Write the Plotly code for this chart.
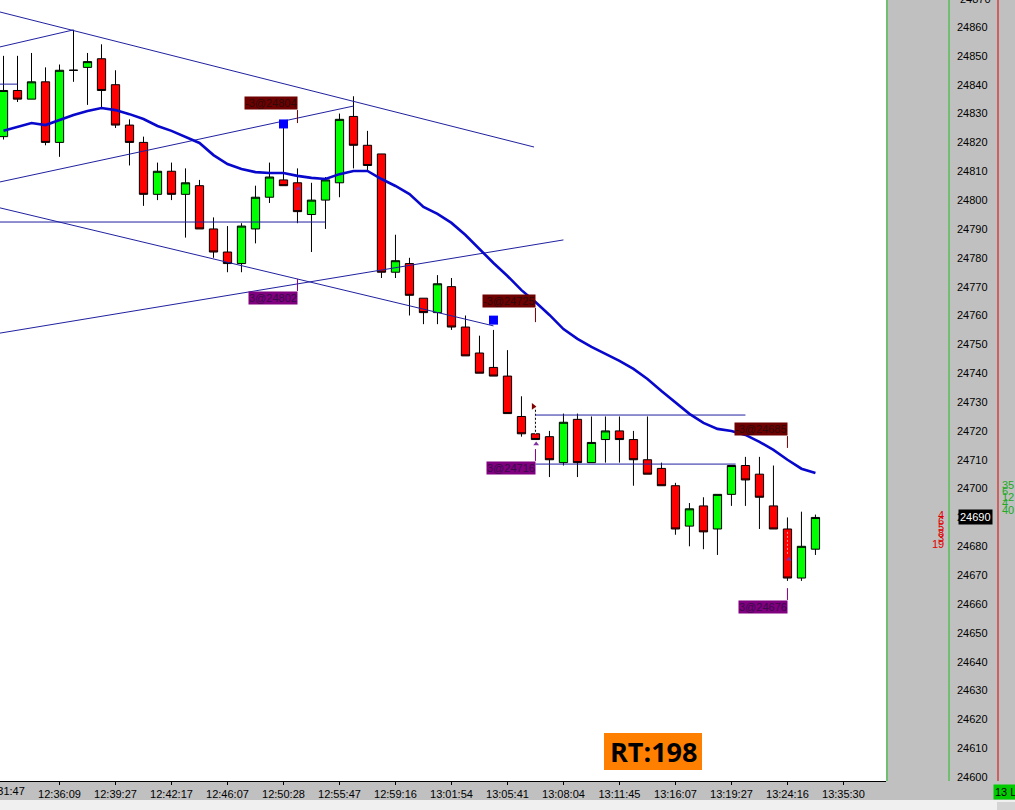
import plotly.graph_objects as go

# ---------------- data ----------------
tick_k = [0, 4, 8, 12, 16, 20, 24, 28, 32, 36, 40, 44, 48, 52, 56, 60]
tick_labels = ["12:31:47", "12:36:09", "12:39:27", "12:42:17", "12:46:07", "12:50:28",
               "12:55:47", "12:59:16", "13:01:54", "13:05:41", "13:08:04", "13:11:45",
               "13:16:07", "13:19:27", "13:24:16", "13:35:30"]

opens = [24822, 24838, 24835, 24841, 24820, 24845, 24846, 24849, 24840, 24826,
         24820, 24802, 24810, 24802, 24805, 24790, 24782, 24778, 24790, 24801,
         24807, 24806, 24795, 24800, 24806, 24829, 24819, 24816, 24775, 24778,
         24766, 24761, 24770, 24756, 24747, 24742, 24739, 24725, 24719, 24718,
         24709, 24724, 24709, 24717, 24720, 24717, 24710, 24707, 24701, 24687,
         24694, 24686, 24698, 24708, 24705, 24694, 24686, 24669, 24679]
highs = [24850, 24850, 24851, 24846, 24847, 24859, 24851, 24854, 24845, 24828,
         24822, 24813, 24813, 24811, 24807, 24794, 24791, 24792, 24805, 24813,
         24825, 24811, 24806, 24808, 24830, 24836, 24824, 24816, 24788, 24780,
         24766, 24774, 24773, 24760, 24753, 24755, 24748, 24732, 24728, 24720,
         24726, 24726, 24725, 24725, 24725, 24720, 24725, 24709, 24702, 24695,
         24697, 24698, 24708, 24711, 24711, 24708, 24690, 24692, 24691]
lows = [24821, 24834, 24835, 24819, 24815, 24841, 24833, 24832, 24825, 24812,
        24798, 24800, 24800, 24787, 24790, 24780, 24775, 24775, 24785, 24799,
        24805, 24792, 24782, 24790, 24801, 24811, 24810, 24773, 24773, 24760,
        24757, 24757, 24755, 24746, 24740, 24739, 24726, 24718, 24717, 24704,
        24708, 24704, 24709, 24709, 24709, 24701, 24705, 24701, 24684, 24680,
        24679, 24677, 24694, 24694, 24686, 24686, 24668, 24668, 24677]
closes = [24838, 24835, 24841, 24820, 24845, 24845, 24848, 24838, 24826, 24820,
          24802, 24810, 24802, 24806, 24790, 24782, 24778, 24791, 24801, 24808,
          24805, 24796, 24800, 24807, 24828, 24819, 24812, 24775, 24779, 24767,
          24761, 24771, 24756, 24746, 24740, 24739, 24726, 24719, 24717, 24710,
          24723, 24709, 24716, 24720, 24717, 24710, 24705, 24701, 24686, 24693,
          24685, 24698, 24708, 24703, 24697, 24686, 24669, 24680, 24690]
ema = [24824.0, 24825.3, 24826.7, 24826.0, 24827.8, 24829.5, 24830.9, 24831.9, 24831.2, 24829.8,
       24828.1, 24825.7, 24824.0, 24821.9, 24819.8, 24815.6, 24812.5, 24810.8, 24809.7, 24809.4,
       24809.4, 24808.4, 24807.7, 24807.3, 24809.0, 24810.1, 24810.1, 24807.3, 24804.9, 24802.1,
       24797.6, 24795.2, 24792.1, 24787.9, 24783.0, 24778.2, 24773.7, 24768.8, 24764.7, 24760.2,
       24755.3, 24751.9, 24749.1, 24746.7, 24744.3, 24741.5, 24738.0, 24733.8, 24729.7, 24725.9,
       24722.8, 24720.7, 24720.0, 24718.6, 24716.2, 24713.4, 24710.0, 24706.9, 24705.4]

# drawn trend / channel lines (bar index, price)
line_x0 = [-0.25, -0.25, -0.25, -0.25, -0.25, -0.25, -0.25, 38, 38]
line_y0 = [24865.2, 24853.1, 24806.3, 24797.3, 24753.9, 24792.4, 24840.2, 24725.5, 24708.5]
line_x1 = [37.9, 5, 25, 35, 40, 23, 1, 53, 52.3]
line_y1 = [24818.4, 24859.0, 24832.6, 24756.4, 24786.2, 24792.4, 24840.2, 24725.5, 24708.5]

# trade labels
label_texts = ["-3@24804", "3@24802", "-3@24725", "3@24716", "-3@24685", "3@24676"]
label_k = [21, 21, 38, 38, 56, 56]
label_sell = [True, False, True, False, True, False]
label_box_edge = [24831.2, 24768.5, 24762.6, 24709.6, 24718.2, 24661.4]
label_tail_end = [24826.7, 24772.7, 24757.7, 24713.7, 24714.1, 24665.5]

# blue signal squares
signal_k = [20, 35]
signal_price = [24826.4, 24758.4]

y_ticks = list(range(24600, 24861, 10))
last_price = 24690

# ---------------- figure ----------------
W, H = 1015, 810
ML, MR, MT, MB = 0, 129, 0, 29
PW, PH = W - ML - MR, H - MT - MB


def px(xp):
    return xp / PW


def py(yp):
    return (PH - yp) / PH


fig = go.Figure()
n = len(opens)
fig.add_trace(go.Candlestick(
    x=list(range(n)), open=opens, high=highs, low=lows, close=closes,
    increasing=dict(line=dict(color="black", width=1), fillcolor="#00ff00"),
    decreasing=dict(line=dict(color="black", width=1), fillcolor="#ff0000"),
    whiskerwidth=0, showlegend=False, hoverinfo="skip"))

for x0, y0, x1, y1 in zip(line_x0, line_y0, line_x1, line_y1):
    fig.add_trace(go.Scatter(x=[x0, x1], y=[y0, y1], mode="lines",
                             line=dict(color="#2020a0", width=1),
                             showlegend=False, hoverinfo="skip"))

fig.add_trace(go.Scatter(x=list(range(n)), y=ema, mode="lines",
                         line=dict(color="#0808cc", width=2.6),
                         showlegend=False, hoverinfo="skip"))

# dashed trade connectors
fig.add_trace(go.Scatter(x=[38, 38], y=[highs[38], opens[38]], mode="lines",
                         line=dict(color="white", width=1, dash="2px,2px"),
                         showlegend=False, hoverinfo="skip"))
fig.add_trace(go.Scatter(x=[56, 56], y=[opens[56] - 1, closes[56] + 8], mode="lines",
                         line=dict(color="#ff9a9a", width=1, dash="2px,2px"),
                         showlegend=False, hoverinfo="skip"))
fig.add_trace(go.Scatter(x=[37.85], y=[line_y0[7] + 3], mode="markers",
                         marker=dict(symbol="triangle-right", size=6, color="#800000"),
                         showlegend=False, hoverinfo="skip"))
fig.add_trace(go.Scatter(x=[38.05, 56.1, 21.05], y=[closes[38] - 1.5, closes[56] + 6.5, opens[21] - 2],
                         mode="markers",
                         marker=dict(symbol="triangle-up", size=5, color="#8030a0"),
                         showlegend=False, hoverinfo="skip"))

fig.add_trace(go.Scatter(x=signal_k, y=signal_price, mode="markers",
                         marker=dict(symbol="square", size=9, color="#0000ff"),
                         showlegend=False, hoverinfo="skip"))

# label tails
for k, sell, edge, tail in zip(label_k, label_sell, label_box_edge, label_tail_end):
    fig.add_trace(go.Scatter(x=[k, k], y=[edge, tail], mode="lines",
                             line=dict(color="#700000" if sell else "#800080", width=1),
                             showlegend=False, hoverinfo="skip"))

annotations = []
for t, k, sell, edge in zip(label_texts, label_k, label_sell, label_box_edge):
    annotations.append(dict(
        x=k + 0.07, y=edge, xref="x", yref="y", text=t, showarrow=False,
        xanchor="right", yanchor="bottom" if sell else "top",
        bgcolor="#6e0000" if sell else "#800080", borderpad=0,
        font=dict(family="Liberation Sans, Arial", size=11,
                  color="#2e0a0a" if sell else "#3a0a4a")))

# RT box
annotations.append(dict(x=px(653), y=py(751.5), xref="paper", yref="paper",
                        text="<b>RT:198</b>", showarrow=False,
                        font=dict(family="Open Sans", size=27, color="black"),
                        xanchor="center", yanchor="middle"))
# last price marker
annotations.append(dict(x=px(958), y=last_price, xref="paper", yref="y",
                        text=str(last_price), showarrow=False, xanchor="left", yanchor="middle",
                        bgcolor="black", borderpad=1,
                        font=dict(family="Liberation Sans, Arial", size=11, color="white")))
# partial top tick
annotations.append(dict(x=px(958), y=py(-1), xref="paper", yref="paper", text="24870",
                        showarrow=False, xanchor="left", yanchor="middle",
                        font=dict(family="Liberation Sans, Arial", size=11, color="black")))
# partial first time label at the left edge
annotations.append(dict(x=px(3.5), y=py(791), xref="paper", yref="paper", text=tick_labels[0],
                        showarrow=False, xanchor="center", yanchor="middle",
                        font=dict(family="Liberation Sans, Arial", size=11, color="black")))
# ladder digits (red bids, green asks)
red_digits = [("4", 515), ("6", 521), ("5", 527), ("8", 533), ("3", 538), ("19", 544)]
for d, yy in red_digits:
    annotations.append(dict(x=px(946), y=py(yy), xref="paper", yref="paper", text=d,
                            showarrow=False, xanchor="right", yanchor="middle",
                            font=dict(family="Liberation Sans, Arial", size=11, color="#e00000")))
green_digits = [("35", 485), ("6", 491), ("12", 497), ("4", 503), ("40", 510)]
for d, yy in green_digits:
    annotations.append(dict(x=px(1000), y=py(yy), xref="paper", yref="paper", text=d,
                            showarrow=False, xanchor="left", yanchor="middle",
                            font=dict(family="Liberation Sans, Arial", size=11, color="#22aa22")))
# bottom-right green box
annotations.append(dict(x=px(993), y=py(791.5), xref="paper", yref="paper", text="13 L",
                        showarrow=False, xanchor="left", yanchor="middle",
                        bgcolor="#00cc00", borderpad=1,
                        font=dict(family="Liberation Sans, Arial", size=11, color="black")))

shapes = [
    dict(type="rect", xref="paper", yref="paper", x0=px(604), x1=px(702), y0=py(770), y1=py(733),
         fillcolor="#ff8000", line=dict(width=0), layer="below"),
    dict(type="line", xref="paper", yref="paper", x0=px(887), x1=px(887), y0=0, y1=1,
         line=dict(color="#22bb22", width=1)),
    dict(type="line", xref="paper", yref="paper", x0=px(949), x1=px(949), y0=0, y1=1,
         line=dict(color="#22bb22", width=1)),
    dict(type="line", xref="paper", yref="paper", x0=px(998), x1=px(998), y0=0, y1=1,
         line=dict(color="#dd0000", width=1)),
    dict(type="rect", xref="paper", yref="paper", x0=px(-5), x1=px(1020), y0=py(812), y1=py(800),
         fillcolor="#f0f0f0", line=dict(width=0)),
    dict(type="rect", xref="paper", yref="paper", x0=px(997), x1=px(1020), y0=py(812), y1=py(802),
         fillcolor="#d4d4d4", line=dict(width=0)),
]

fig.update_layout(
    width=W, height=H, margin=dict(l=ML, r=MR, t=MT, b=MB, pad=0),
    paper_bgcolor="#c0c0c0", plot_bgcolor="white",
    boxgap=0.41, boxgroupgap=0,
    showlegend=False, annotations=annotations, shapes=shapes,
    xaxis=dict(range=[-0.25, 63.04], rangeslider=dict(visible=False),
               tickmode="array", tickvals=tick_k[1:], ticktext=tick_labels[1:],
               showgrid=False, zeroline=False, showline=True, linecolor="black", linewidth=1,
               ticks="outside", ticklen=3, tickcolor="black",
               tickfont=dict(family="Liberation Sans, Arial", size=11, color="black"),
               automargin=False, fixedrange=True),
    yaxis=dict(range=[24598.65, 24869.36], side="right", tickmode="array", tickvals=y_ticks,
               tickformat="d",
               showgrid=False, zeroline=False, showline=False, ticks="",
               ticklabelstandoff=70,
               tickfont=dict(family="Liberation Sans, Arial", size=11, color="black"),
               automargin=False, fixedrange=True),
)

fig.write_html("out.html", config={"displayModeBar": False},
               post_script="document.body.style.margin='0';document.body.style.padding='0';")
